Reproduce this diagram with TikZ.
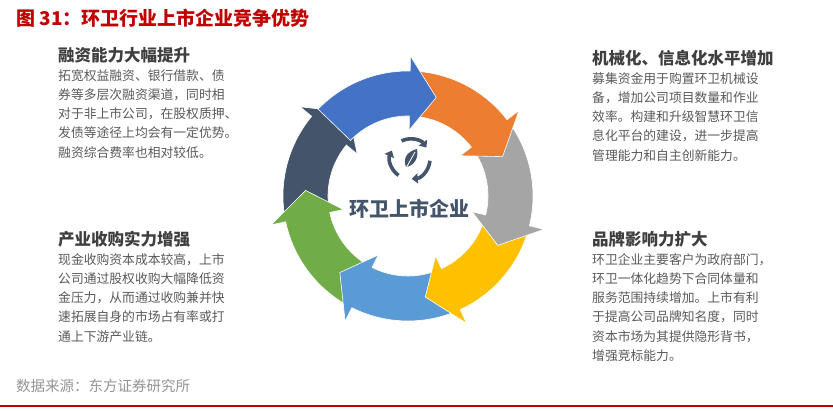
\documentclass[tikz,border=0pt]{standalone}
\usepackage{fontspec}
\setmainfont{Noto Sans CJK SC}
\usetikzlibrary{arrows.meta}
\definecolor{cblue}{HTML}{4472C4}
\definecolor{corange}{HTML}{ED7D31}
\definecolor{cgrey}{HTML}{A5A5A5}
\definecolor{cyellow}{HTML}{FFC000}
\definecolor{clblue}{HTML}{5B9BD5}
\definecolor{cgreen}{HTML}{70AD47}
\definecolor{cdark}{HTML}{44546A}
\definecolor{ttl}{HTML}{C00000}
\definecolor{head}{HTML}{3F3F3F}
\definecolor{bodyc}{HTML}{595959}
\tikzset{
  heading/.style={anchor=north west,inner sep=0pt,font=\fontsize{16.5}{19}\selectfont\bfseries,text=head},
  bodytext/.style={anchor=north west,inner sep=0pt,align=left,font=\fontsize{12.8}{19.3}\selectfont,text=bodyc},
}
\newcommand{\ringarrow}[2]{%
  \fill[#2,draw=white,line width=0.6pt]
    ({#1+62}:80pt) arc[start angle=#1+62,end angle=#1+15,radius=80pt]
    -- ({#1+15}:66pt) -- (#1:102.5pt) -- ({#1+15}:140pt) -- ({#1+15}:125pt)
    arc[start angle=#1+15,end angle=#1+62,radius=125pt] -- cycle;}
\begin{document}
\begin{tikzpicture}[x=1pt,y=1pt]
\useasboundingbox (0,0) rectangle (833,410);
\node[anchor=west,inner sep=0pt,text=ttl,font=\fontsize{19}{22}\selectfont\bfseries] (title) at (16,392) {图 31：环卫行业上市企业竞争优势};
\begin{scope}[shift={(408,214)}]
\ringarrow{125.4}{cdark}
\ringarrow{176.9}{cgreen}
\ringarrow{-131.7}{clblue}
\ringarrow{-80.3}{cyellow}
\ringarrow{-28.8}{cgrey}
\ringarrow{22.6}{corange}
\ringarrow{74}{cblue}
% icon
\begin{scope}[shift={(2,37)},line width=3.6pt,draw=cdark]
\draw[-{Triangle[length=6pt,width=10pt]}] (115:20) arc[start angle=115,end angle=35,radius=20];
\draw[-{Triangle[length=6pt,width=10pt]}] (-5:20) arc[start angle=-5,end angle=-85,radius=20];
\draw[-{Triangle[length=6pt,width=10pt]}] (-125:20) arc[start angle=-125,end angle=-205,radius=20];
\fill[cdark] (-4,-8) .. controls (-8,2) and (-1,8) .. (7,10) .. controls (9,1) and (4,-7) .. (-4,-8) -- cycle;
\draw[white,line width=0.8pt] (-5,-11) -- (5,7);
\end{scope}
\node[text=cdark,font=\fontsize{20}{24}\selectfont\bfseries] (center) at (1,-13) {环卫上市企业};
\end{scope}
\node[heading] (h1) at (58,363) {融资能力大幅提升};
\node[bodytext] (b1) at (58,341) {拓宽权益融资、银行借款、债\\券等多层次融资渠道，同时相\\对于非上市公司，在股权质押、\\发债等途径上均会有一定优势。\\融资综合费率也相对较低。};
\node[heading] (h2) at (592,360) {机械化、信息化水平增加};
\node[bodytext] (b2) at (592,338) {募集资金用于购置环卫机械设\\备，增加公司项目数量和作业\\效率。构建和升级智慧环卫信\\息化平台的建设，进一步提高\\管理能力和自主创新能力。};
\node[heading] (h3) at (592,179) {品牌影响力扩大};
\node[bodytext] (b3) at (592,157) {环卫企业主要客户为政府部门，\\环卫一体化趋势下合同体量和\\服务范围持续增加。上市有利\\于提高公司品牌知名度，同时\\资本市场为其提供隐形背书，\\增强竞标能力。};
\node[heading] (h4) at (58,179) {产业收购实力增强};
\node[bodytext] (b4) at (58,157) {现金收购资本成本较高，上市\\公司通过股权收购大幅降低资\\金压力，从而通过收购兼并快\\速拓展自身的市场占有率或打\\通上下游产业链。};
\node[anchor=west,inner sep=0pt,text=cgrey!90!black,font=\fontsize{14.5}{17}\selectfont] (src) at (16,24) {数据来源：东方证券研究所};
\fill[ttl] (0,3) rectangle (833,5);
\end{tikzpicture}
\end{document}
